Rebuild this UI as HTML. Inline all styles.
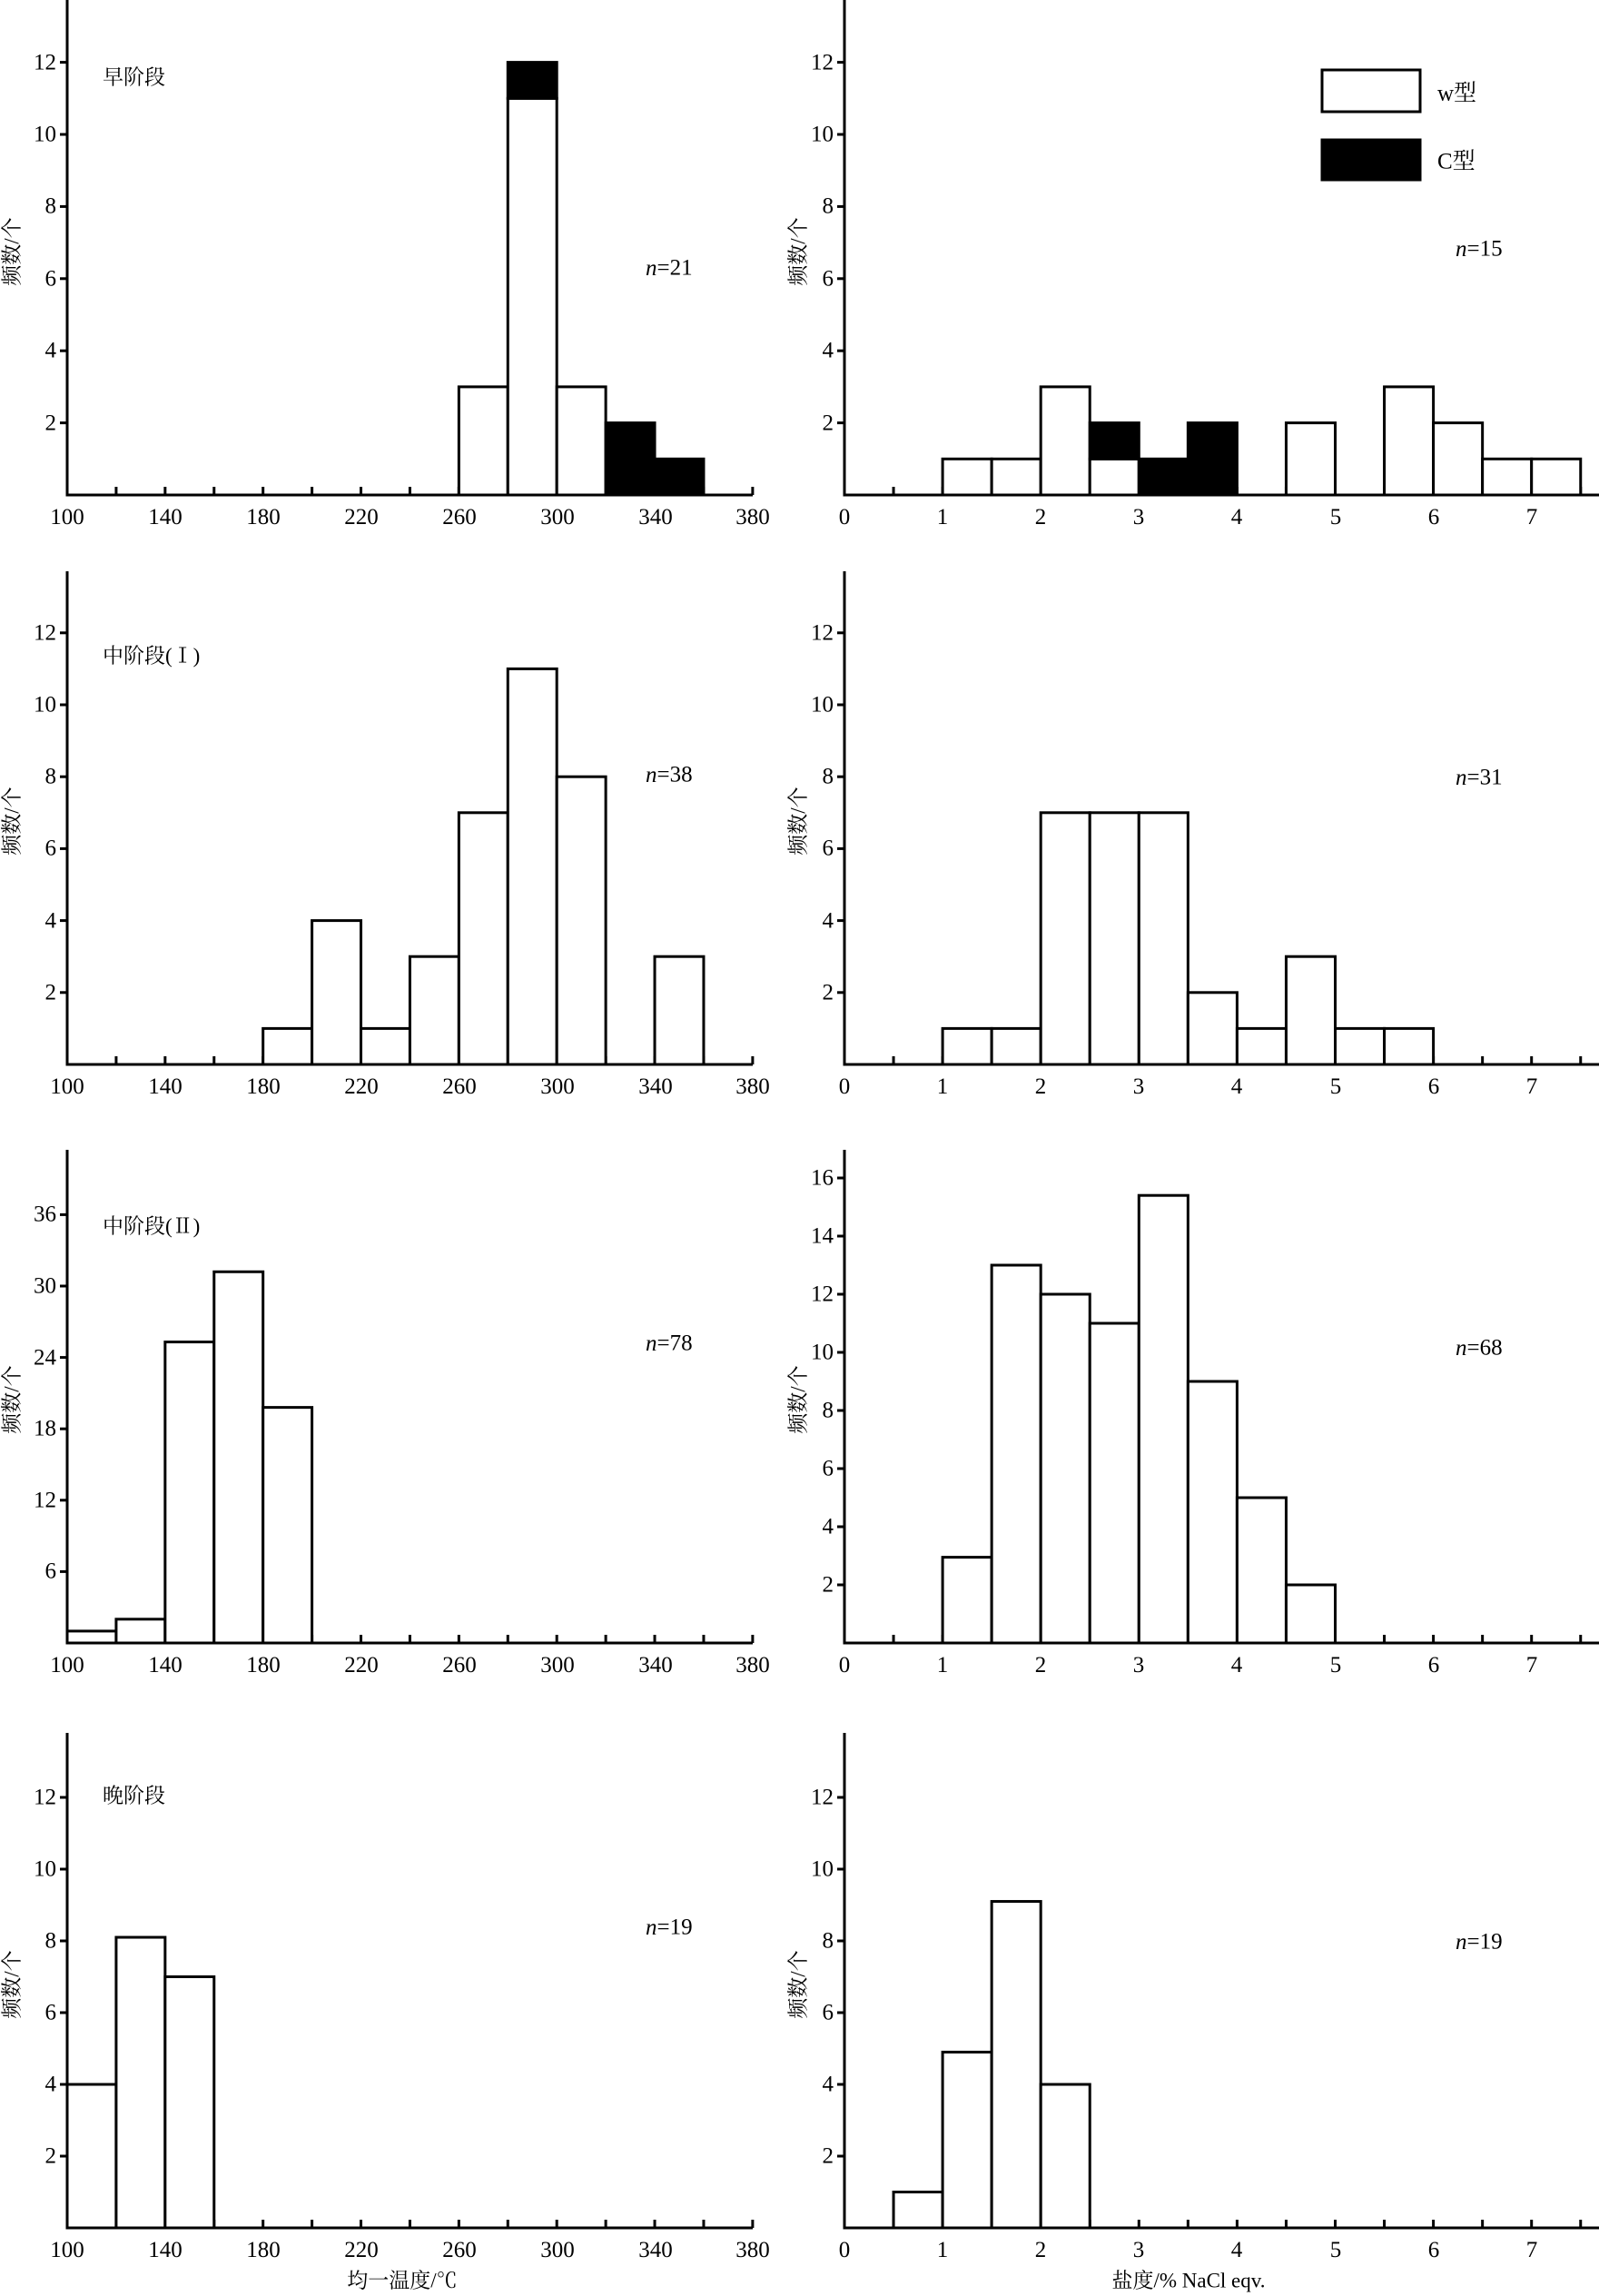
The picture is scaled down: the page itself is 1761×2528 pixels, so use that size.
<!DOCTYPE html>
<html><head><meta charset="utf-8"><style>
html,body{margin:0;padding:0;background:#fff}
svg{display:block}
text{font-family:"Liberation Serif","Noto Serif CJK SC",serif;fill:#000}
.t{font-size:25px}
.c{font-family:"Liberation Sans","Noto Sans CJK SC",sans-serif;font-size:23px}
</style></head><body>
<svg id="s" width="1761" height="2528" viewBox="0 0 1761 2528" xmlns="http://www.w3.org/2000/svg">
<g id="g" stroke="#000" stroke-width="3" fill="none"></g>
<g class="t" text-anchor="middle">
<!-- left x labels -->
<text x="74" y="577">100</text><text x="182" y="577">140</text><text x="290" y="577">180</text><text x="398" y="577">220</text><text x="506" y="577">260</text><text x="614" y="577">300</text><text x="722" y="577">340</text><text x="829" y="577">380</text>
<text x="74" y="1204">100</text><text x="182" y="1204">140</text><text x="290" y="1204">180</text><text x="398" y="1204">220</text><text x="506" y="1204">260</text><text x="614" y="1204">300</text><text x="722" y="1204">340</text><text x="829" y="1204">380</text>
<text x="74" y="1841">100</text><text x="182" y="1841">140</text><text x="290" y="1841">180</text><text x="398" y="1841">220</text><text x="506" y="1841">260</text><text x="614" y="1841">300</text><text x="722" y="1841">340</text><text x="829" y="1841">380</text>
<text x="74" y="2485">100</text><text x="182" y="2485">140</text><text x="290" y="2485">180</text><text x="398" y="2485">220</text><text x="506" y="2485">260</text><text x="614" y="2485">300</text><text x="722" y="2485">340</text><text x="829" y="2485">380</text>
<!-- right x labels -->
<text x="930" y="577">0</text><text x="1038" y="577">1</text><text x="1146" y="577">2</text><text x="1254" y="577">3</text><text x="1362" y="577">4</text><text x="1471" y="577">5</text><text x="1579" y="577">6</text><text x="1687" y="577">7</text>
<text x="930" y="1204">0</text><text x="1038" y="1204">1</text><text x="1146" y="1204">2</text><text x="1254" y="1204">3</text><text x="1362" y="1204">4</text><text x="1471" y="1204">5</text><text x="1579" y="1204">6</text><text x="1687" y="1204">7</text>
<text x="930" y="1841">0</text><text x="1038" y="1841">1</text><text x="1146" y="1841">2</text><text x="1254" y="1841">3</text><text x="1362" y="1841">4</text><text x="1471" y="1841">5</text><text x="1579" y="1841">6</text><text x="1687" y="1841">7</text>
<text x="930" y="2485">0</text><text x="1038" y="2485">1</text><text x="1146" y="2485">2</text><text x="1254" y="2485">3</text><text x="1362" y="2485">4</text><text x="1471" y="2485">5</text><text x="1579" y="2485">6</text><text x="1687" y="2485">7</text>
</g>
<g class="t" text-anchor="end" dominant-baseline="central">
<text x="62" y="466">2</text><text x="62" y="386">4</text><text x="62" y="307">6</text><text x="62" y="227">8</text><text x="62" y="148">10</text><text x="62" y="69">12</text>
<text x="918" y="466">2</text><text x="918" y="386">4</text><text x="918" y="307">6</text><text x="918" y="227">8</text><text x="918" y="148">10</text><text x="918" y="69">12</text>
<text x="62" y="1093">2</text><text x="62" y="1014">4</text><text x="62" y="934">6</text><text x="62" y="855">8</text><text x="62" y="776">10</text><text x="62" y="697">12</text>
<text x="918" y="1093">2</text><text x="918" y="1014">4</text><text x="918" y="934">6</text><text x="918" y="855">8</text><text x="918" y="776">10</text><text x="918" y="697">12</text>
<text x="62" y="1730">6</text><text x="62" y="1652">12</text><text x="62" y="1573">18</text><text x="62" y="1495">24</text><text x="62" y="1416">30</text><text x="62" y="1337">36</text>
<text x="918" y="1745">2</text><text x="918" y="1681">4</text><text x="918" y="1617">6</text><text x="918" y="1553">8</text><text x="918" y="1489">10</text><text x="918" y="1425">12</text><text x="918" y="1361">14</text><text x="918" y="1297">16</text>
<text x="62" y="2374">2</text><text x="62" y="2295">4</text><text x="62" y="2216">6</text><text x="62" y="2137">8</text><text x="62" y="2058">10</text><text x="62" y="1979">12</text>
<text x="918" y="2374">2</text><text x="918" y="2295">4</text><text x="918" y="2216">6</text><text x="918" y="2137">8</text><text x="918" y="2058">10</text><text x="918" y="1979">12</text>
</g>
<g class="t" dominant-baseline="central">
<text x="711" y="295"><tspan font-style="italic">n</tspan>=21</text>
<text x="1603" y="274"><tspan font-style="italic">n</tspan>=15</text>
<text x="711" y="853"><tspan font-style="italic">n</tspan>=38</text>
<text x="1603" y="856"><tspan font-style="italic">n</tspan>=31</text>
<text x="711" y="1479"><tspan font-style="italic">n</tspan>=78</text>
<text x="1603" y="1484"><tspan font-style="italic">n</tspan>=68</text>
<text x="711" y="2122"><tspan font-style="italic">n</tspan>=19</text>
<text x="1603" y="2138"><tspan font-style="italic">n</tspan>=19</text>
<text x="1583" y="103">w型</text>
<text x="1583" y="178">C型</text>
</g>
<g class="c" dominant-baseline="central">
<text x="113" y="85">早阶段</text>
<text x="113" y="722">中阶段(Ⅰ)</text>
<text x="113" y="1350">中阶段(Ⅱ)</text>
<text x="113" y="1977">晚阶段</text>
</g>
<g class="c" text-anchor="middle" dominant-baseline="central">
<text transform="translate(13,277) rotate(-90)">频数/个</text>
<text transform="translate(879,277) rotate(-90)">频数/个</text>
<text transform="translate(13,904) rotate(-90)">频数/个</text>
<text transform="translate(879,904) rotate(-90)">频数/个</text>
<text transform="translate(13,1541) rotate(-90)">频数/个</text>
<text transform="translate(879,1541) rotate(-90)">频数/个</text>
<text transform="translate(13,2185) rotate(-90)">频数/个</text>
<text transform="translate(879,2185) rotate(-90)">频数/个</text>
<text x="443" y="2511">均一温度/℃</text>
<text x="1309" y="2511">盐度/% NaCl eqv.</text>
</g>
</svg>
<script>
var g=document.getElementById('g'),NS='http://www.w3.org/2000/svg';
function el(t,a){var e=document.createElementNS(NS,t);for(var k in a)e.setAttribute(k,a[k]);g.appendChild(e);}
function line(x1,y1,x2,y2){el('line',{x1:x1,y1:y1,x2:x2,y2:y2});}
function LX(v){return 74+(v-100)*2.696;}
function RX(v){return 930+v*108.1;}
// rows: base, top, left unit, right unit, left ticks step, right ticks step, ymaxLeft, ymaxRight
var rows=[[545,0,39.7,39.7,2,2,12,12],[1172,629,39.6,39.6,2,2,12,12],[1809,1266,13.1,32,6,2,36,16],[2453,1908,39.5,39.5,2,2,12,12]];
rows.forEach(function(r){
 var B=r[0],T=r[1];
 line(74,T,74,B+1.5); line(72.5,B,829,B);
 for(var v=120;v<=380;v+=20) line(LX(v),B,LX(v),B-9);
 for(var k=r[4];k<=r[6];k+=r[4]) line(74,B-k*r[2],66,B-k*r[2]);
 line(930,T,930,B+1.5); line(928.5,B,1761,B);
 for(var v=0.5;v<=7.6;v+=0.5) line(RX(v),B,RX(v),B-9);
 for(var k=r[5];k<=r[7];k+=r[5]) line(930,B-k*r[3],922,B-k*r[3]);
});
function bar(X,x0,x1,B,u,h0,h1,black){
 el('rect',{x:X(x0),y:B-h1*u,width:X(x1)-X(x0),height:(h1-h0)*u,fill:black?'#000':'#fff'});
}
var L1=[[260,280,0,3],[280,300,0,11],[300,320,0,3]],L1b=[[280,300,11,12],[320,340,0,2],[340,360,0,1]];
L1.forEach(function(b){bar(LX,b[0],b[1],545,39.7,b[2],b[3],0)});
L1b.forEach(function(b){bar(LX,b[0],b[1],545,39.7,b[2],b[3],1)});
var R1=[[1,1.5,0,1],[1.5,2,0,1],[2,2.5,0,3],[2.5,3,0,1],[4.5,5,0,2],[5.5,6,0,3],[6,6.5,0,2],[6.5,7,0,1],[7,7.5,0,1]],
R1b=[[2.5,3,1,2],[3,3.5,0,1],[3.5,4,0,2]];
R1.forEach(function(b){bar(RX,b[0],b[1],545,39.7,b[2],b[3],0)});
R1b.forEach(function(b){bar(RX,b[0],b[1],545,39.7,b[2],b[3],1)});
[[180,1],[200,4],[220,1],[240,3],[260,7],[280,11],[300,8],[340,3]].forEach(function(b){bar(LX,b[0],b[0]+20,1172,39.6,0,b[1],0)});
[[1,1],[1.5,1],[2,7],[2.5,7],[3,7],[3.5,2],[4,1],[4.5,3],[5,1],[5.5,1]].forEach(function(b){bar(RX,b[0],b[0]+0.5,1172,39.6,0,b[1],0)});
[[100,1],[120,2],[140,25.3],[160,31.2],[180,19.8]].forEach(function(b){bar(LX,b[0],b[0]+20,1809,13.1,0,b[1],0)});
[[1,2.95],[1.5,13],[2,12],[2.5,11],[3,15.4],[3.5,9],[4,5],[4.5,2]].forEach(function(b){bar(RX,b[0],b[0]+0.5,1809,32,0,b[1],0)});
[[100,4],[120,8.1],[140,7]].forEach(function(b){bar(LX,b[0],b[0]+20,2453,39.5,0,b[1],0)});
[[0.5,1],[1,4.9],[1.5,9.1],[2,4]].forEach(function(b){bar(RX,b[0],b[0]+0.5,2453,39.5,0,b[1],0)});
el('rect',{x:1456,y:77,width:108,height:46,fill:'#fff'});
el('rect',{x:1456,y:154,width:108,height:44,fill:'#000'});
</script>
</body></html>
